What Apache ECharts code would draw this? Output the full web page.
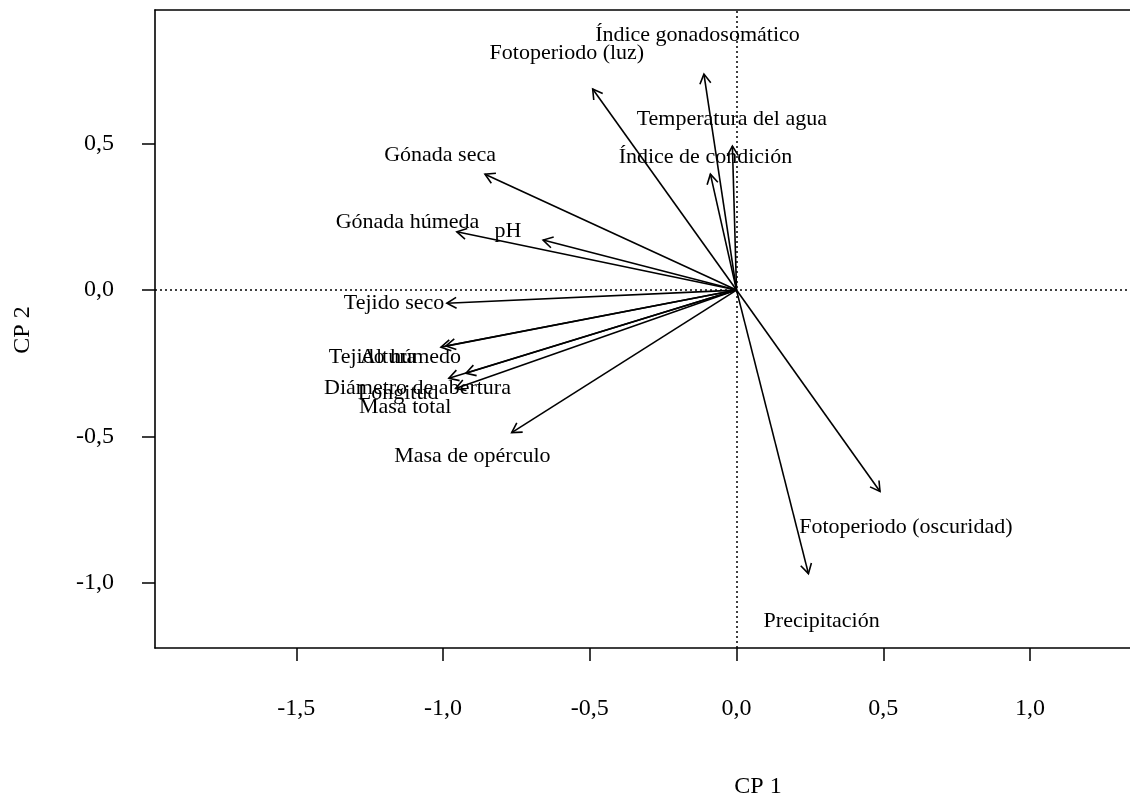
<!DOCTYPE html>
<html>
<head>
<meta charset="utf-8">
<script src="https://cdn.jsdelivr.net/npm/echarts@6/dist/echarts.min.js"></script>
<style>html,body{margin:0;padding:0;background:#fff}#main{width:1130px;height:800px}</style>
</head>
<body>
<div id="main"></div>
<script>
// Variable names (loadings of the PCA biplot)
const variables = [
  'Índice gonadosomático', 'Fotoperiodo (luz)', 'Temperatura del agua', 'Índice de condición',
  'Gónada seca', 'Gónada húmeda', 'pH', 'Tejido seco', 'Tejido húmedo', 'Altura',
  'Diámetro de abertura', 'Longitud', 'Masa total', 'Masa de opérculo',
  'Fotoperiodo (oscuridad)', 'Precipitación'
];
// Arrow tips (CP 1, CP 2)
const arrowX = [-0.111, -0.490, -0.014, -0.089, -0.857, -0.953, -0.659, -0.987, -0.990, -1.007, -0.922, -0.980, -0.957, -0.766, 0.489, 0.245];
const arrowY = [0.738, 0.687, 0.492, 0.396, 0.396, 0.199, 0.171, -0.045, -0.191, -0.195, -0.284, -0.301, -0.336, -0.487, -0.688, -0.969];
// Label anchor points (CP 1, CP 2)
const labelX = [-0.133, -0.578, -0.016, -0.106, -1.010, -1.121, -0.779, -1.167, -1.164, -1.187, -1.087, -1.153, -1.129, -0.900, 0.577, 0.290];
const labelY = [0.870, 0.809, 0.583, 0.455, 0.461, 0.231, 0.201, -0.045, -0.228, -0.228, -0.335, -0.352, -0.399, -0.569, -0.810, -1.132];
// Axis ticks
const xTicks = [-1.5, -1.0, -0.5, 0.0, 0.5, 1.0];
const yTicks = [-1.0, -0.5, 0.0, 0.5];
const xTitle = 'CP 1';
const yTitle = 'CP 2';

const FONT = "'Liberation Serif', 'Times New Roman', serif";
const fmt = v => v.toFixed(1).replace('.', ',');

const chart = echarts.init(document.getElementById('main'), null, {renderer: 'canvas'});

const arrowData = variables.map((n, i) => [arrowX[i], arrowY[i], n]);
const labelData = variables.map((n, i) => [labelX[i], labelY[i], n]);

const option = {
  backgroundColor: '#fff',
  animation: false,
  grid: {left: 155, right: 0, top: 10, bottom: 152, containLabel: false},
  xAxis: [{
    type: 'value', position: 'bottom', min: -1.9813, max: 1.3407,
    axisLine: {show: true, onZero: false, lineStyle: {color: '#000', width: 1.6}},
    axisTick: {show: true, length: 13, customValues: xTicks, lineStyle: {color: '#000', width: 1.5}},
    axisLabel: {show: true, customValues: xTicks, formatter: fmt, fontSize: 24, fontFamily: FONT, color: '#000', margin: 49},
    splitLine: {show: false}
  }, {
    type: 'value', position: 'top', min: -1.9813, max: 1.3407,
    axisLine: {show: true, onZero: false, lineStyle: {color: '#000', width: 1.6}},
    axisTick: {show: false}, axisLabel: {show: false}, splitLine: {show: false}
  }],
  yAxis: [{
    type: 'value', position: 'left', min: -1.223, max: 0.957,
    axisLine: {show: true, onZero: false, lineStyle: {color: '#000', width: 1.6}},
    axisTick: {show: true, length: 13, customValues: yTicks, lineStyle: {color: '#000', width: 1.5}},
    axisLabel: {show: true, customValues: yTicks, formatter: fmt, fontSize: 24, fontFamily: FONT, color: '#000', margin: 41},
    splitLine: {show: false}
  }],
  graphic: [
    {type: 'text', x: 758, y: 787, style: {text: xTitle, font: '24px ' + FONT, fill: '#000', align: 'center', verticalAlign: 'middle', textAlign: 'center', textVerticalAlign: 'middle'}},
    {type: 'text', x: 23, y: 330, rotation: Math.PI / 2, style: {text: yTitle, font: '24px ' + FONT, fill: '#000', align: 'center', verticalAlign: 'middle', textAlign: 'center', textVerticalAlign: 'middle'}}
  ],
  series: [{
    type: 'scatter', name: 'ref', data: [], silent: true,
    markLine: {
      silent: true, symbol: ['none', 'none'], label: {show: false},
      lineStyle: {color: '#000', width: 1.5, type: [2, 3]},
      data: [{xAxis: 0}, {yAxis: 0}]
    }
  }, {
    type: 'custom', name: 'arrows', xAxisIndex: 0, yAxisIndex: 0, silent: true,
    data: arrowData,
    renderItem: function (params, api) {
      const o = api.coord([0, 0]);
      const t = api.coord([api.value(0), api.value(1)]);
      const ang = Math.atan2(t[1] - o[1], t[0] - o[0]);
      const L = 11, a = Math.PI / 6;
      const p1 = [t[0] - L * Math.cos(ang - a), t[1] - L * Math.sin(ang - a)];
      const p2 = [t[0] - L * Math.cos(ang + a), t[1] - L * Math.sin(ang + a)];
      const st = {stroke: '#000', lineWidth: 1.6, fill: null};
      return {type: 'group', children: [
        {type: 'line', shape: {x1: o[0], y1: o[1], x2: t[0], y2: t[1]}, style: st},
        {type: 'polyline', shape: {points: [p1, t, p2]}, style: st}
      ]};
    }
  }, {
    type: 'custom', name: 'labels', silent: true,
    data: labelData,
    renderItem: function (params, api) {
      const p = api.coord([api.value(0), api.value(1)]);
      return {type: 'text', x: p[0], y: p[1], style: {
        text: variables[params.dataIndex], font: '22px ' + FONT, fill: '#000',
        align: 'center', verticalAlign: 'middle', textAlign: 'center', textVerticalAlign: 'middle'
      }};
    }
  }]
};
chart.setOption(option);
</script>
</body>
</html>
